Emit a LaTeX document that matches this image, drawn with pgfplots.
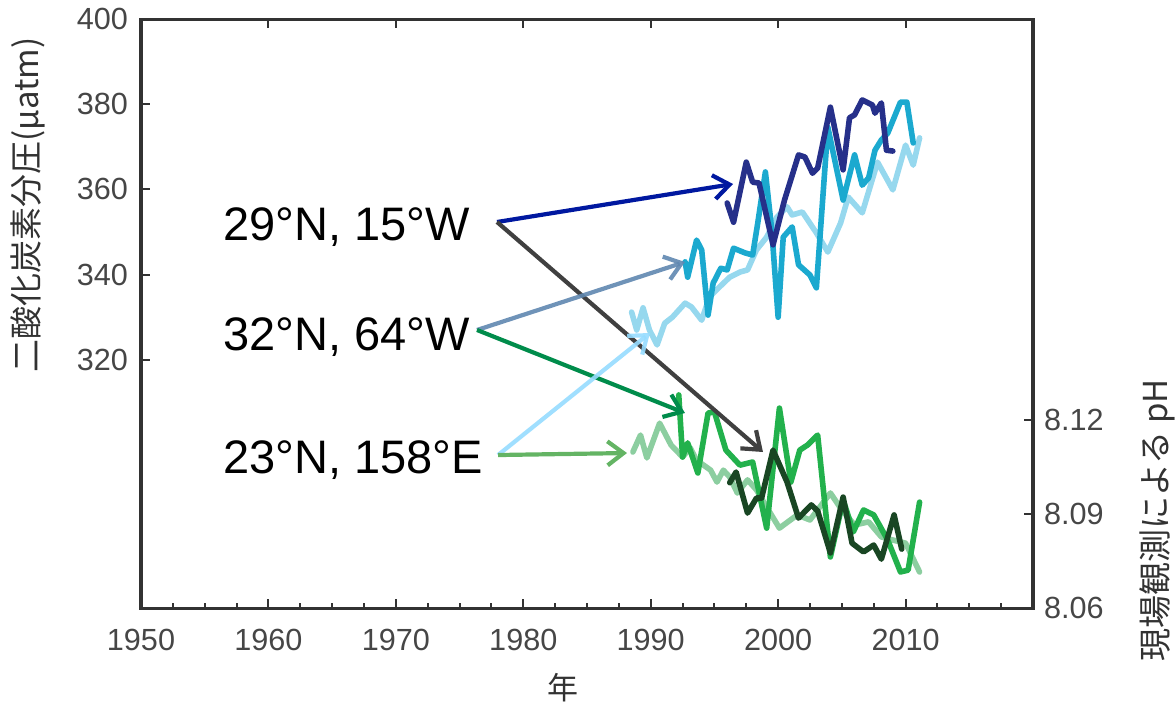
\documentclass[border=0pt]{standalone}
\usepackage{fontspec}
\setmainfont{Liberation Sans}
\newfontfamily\cjk{Noto Sans CJK JP}
\usepackage{pgfplots}
\pgfplotsset{compat=1.18}
\usetikzlibrary{arrows.meta}

\definecolor{axisgray}{RGB}{50,50,50}
\definecolor{tickgray}{RGB}{70,70,70}
\definecolor{estocco}{RGB}{38,48,138}
\definecolor{batsco}{RGB}{27,169,207}
\definecolor{hotco}{RGB}{150,216,238}
\definecolor{estocph}{RGB}{25,70,35}
\definecolor{batsph}{RGB}{34,177,76}
\definecolor{hotph}{RGB}{140,206,160}
\definecolor{arrblue}{RGB}{0,24,160}
\definecolor{arrgray}{RGB}{64,64,64}
\definecolor{arrsteel}{RGB}{95,135,176}
\definecolor{arrgreen}{RGB}{0,140,75}
\definecolor{arrlblue}{RGB}{150,220,255}
\definecolor{arrlgreen}{RGB}{100,180,100}

\tikzset{
  series/.style={line width=2.8pt, line join=round, line cap=round},
  arr/.style={line width=2.1pt, -{Straight Barb[length=8pt, width=12pt, line width=2.1pt]}},
}
\pgfplotsset{
  base/.style={
    scale only axis, width=446pt, height=294.5pt,
    at={(0,0)}, anchor=south west,
    xmin=1950, xmax=2020,
    axis line style={draw=axisgray, line width=1.5pt},
    major tick length=4.5pt, minor tick length=2.5pt,
    every tick/.style={draw=axisgray, line width=1pt},
    tick align=inside,
    ticklabel style={font=\fontsize{15.3}{18}\selectfont, text=tickgray},
    /pgf/number format/assume math mode=true,
    clip=false,
  },
}

\begin{document}
\begin{tikzpicture}
\path[use as bounding box] (-70.5pt,-50pt) rectangle (517.5pt,304pt);

% pH (right axis)
\begin{axis}[base,
  ymin=8.06, ymax=8.248, ytick={8.06,8.09,8.12}, ytick pos=right,
  yticklabel style={xshift=2pt, /pgf/number format/fixed,
    /pgf/number format/fixed zerofill, /pgf/number format/precision=2},
  xtick={1960,1970,...,2010}, xtick pos=top, xticklabels={},
]
\addplot[series, hotph] coordinates {
(1988.6,8.1098) (1989.2,8.1152) (1989.7,8.1079) (1990.7,8.1190) (1991.6,8.1120)
(1992.5,8.1082) (1993.1,8.1111) (1993.6,8.1072) (1994.7,8.1040) (1995.2,8.1002)
(1995.7,8.1040) (1996.2,8.1018) (1996.8,8.0967) (1997.6,8.1009) (1998.3,8.0977)
(1999.1,8.0922) (2000.1,8.0855) (2001.5,8.0897) (2002.5,8.0881) (2004.1,8.0967)
(2005.0,8.0913) (2006.0,8.0865) (2007.1,8.0875) (2008.1,8.0827) (2009.0,8.0817)
(2010.0,8.0807) (2011.1,8.0715)};
\addplot[series, batsph] coordinates {
(1992.2,8.1280) (1992.5,8.1082) (1992.9,8.1127) (1993.7,8.1031) (1994.5,8.1222)
(1995.0,8.1226) (1995.9,8.1104) (1997.0,8.1056) (1998.0,8.1066) (1999.1,8.0855)
(2000.1,8.1238) (2001.0,8.1002) (2001.7,8.1104) (2002.3,8.1120) (2003.1,8.1152)
(2004.1,8.0763) (2005.1,8.0945) (2005.9,8.0843) (2006.7,8.0913) (2007.5,8.0897)
(2008.6,8.0817) (2009.6,8.0715) (2010.2,8.0721) (2011.1,8.0938)};
\addplot[series, estocph] coordinates {
(1996.2,8.1000) (1996.7,8.1034) (1997.6,8.0903) (1998.3,8.0951) (1998.7,8.0951)
(1999.6,8.1104) (2000.7,8.1002) (2001.6,8.0887) (2002.6,8.0929) (2003.1,8.0910)
(2004.1,8.0776) (2005.1,8.0954) (2005.8,8.0807) (2006.7,8.0779) (2007.5,8.0801)
(2008.1,8.0756) (2009.1,8.0897) (2009.7,8.0788)};
\node[rotate=90, font=\cjk\fontsize{16.5}{20}\selectfont, text=axisgray]
  at (axis description cs:1.139,0.149) {現場観測による pH};
\end{axis}

% CO2 (left axis)
\begin{axis}[base,
  ymin=261.74, ymax=400, ytick={320,340,...,400}, ytick pos=left,
  yticklabel style={xshift=-3pt},
  xtick={1950,1960,...,2020}, xtick pos=bottom, minor x tick num=3,
  xticklabels={1950,1960,1970,1980,1990,2000,2010,{}},
  xticklabel style={yshift=-7pt},
]
\addplot[series, hotco] coordinates {
(1988.5,331.2) (1988.9,327.0) (1989.4,332.2) (1989.9,327.0) (1990.5,323.5)
(1991.1,328.6) (1991.7,330.0) (1992.7,333.3) (1993.2,332.4) (1994.0,329.3)
(1994.6,334.7) (1995.4,337.1) (1996.2,339.4) (1997.0,340.6) (1997.6,341.1)
(1998.3,345.8) (1999.1,348.8) (1999.9,353.5) (2000.7,355.9) (2001.1,354.0)
(2001.9,354.7) (2003.0,349.8) (2003.9,345.3) (2004.9,352.1) (2005.5,358.2)
(2006.6,354.5) (2007.8,366.4) (2009.0,359.9) (2010.0,370.4) (2010.6,365.7)
(2011.1,372.1)};
\addplot[series, batsco] coordinates {
(1992.7,343.0) (1992.9,339.4) (1993.6,348.1) (1994.0,345.8) (1994.5,330.5)
(1994.9,338.0) (1995.5,341.5) (1996.0,341.1) (1996.5,346.2) (1997.4,345.1)
(1998.0,344.6) (1998.4,352.1) (1999.0,364.1) (1999.5,350.5) (2000.0,330.0)
(2000.4,348.8) (2001.1,351.2) (2001.6,342.3) (2002.5,339.9) (2003.0,336.9)
(2003.9,374.6) (2005.1,357.5) (2006.0,368.1) (2006.6,361.0) (2007.1,362.7)
(2007.6,369.2) (2008.1,371.6) (2008.6,373.2) (2009.6,380.5) (2010.1,380.5)
(2010.6,370.9)};
\addplot[series, estocco] coordinates {
(1996.0,356.8) (1996.5,352.3) (1997.5,366.4) (1998.0,361.7) (1998.5,361.5)
(1999.6,347.0) (2000.5,357.5) (2001.6,368.1) (2002.1,367.6) (2002.7,363.8)
(2003.1,365.0) (2004.1,379.3) (2005.1,364.6) (2005.6,376.8) (2006.0,377.5)
(2006.6,381.0) (2007.4,379.8) (2007.6,377.9) (2008.1,380.3) (2008.5,369.2)
(2009.0,369.0)};

% station labels and arrows
\begin{scope}[font=\fontsize{23.5}{28}\selectfont]
\node[anchor=base west, inner sep=0pt] at (axis cs:1956.43,347.9) {29°N, 15°W};
\node[anchor=base west, inner sep=0pt] at (axis cs:1956.43,322.3) {32°N, 64°W};
\node[anchor=base west, inner sep=0pt] at (axis cs:1956.43,293.4) {23°N, 158°E};
\end{scope}
\draw[arr, arrblue]   (axis cs:1977.94,352.35) -- (axis cs:1996.46,361.27);
\draw[arr, arrgray]   (axis cs:1977.94,352.35) -- (axis cs:1998.81,298.36);
\draw[arr, arrsteel, opacity=0.9]  (axis cs:1976.37,327.0) -- (axis cs:1992.69,342.96);
\draw[arr, arrgreen]  (axis cs:1976.37,327.0) -- (axis cs:1992.69,307.51);
\draw[arr, arrlblue, opacity=0.9]  (axis cs:1978.02,297.65) -- (axis cs:1989.94,326.29);
\draw[arr, arrlgreen] (axis cs:1978.02,297.65) -- (axis cs:1988.14,298.12);

\node[font=\cjk\fontsize{15.5}{18}\selectfont, text=axisgray]
  at (axis description cs:0.473,-0.136) {年};
\node[rotate=90, font=\cjk\fontsize{16.5}{20}\selectfont, text=axisgray]
  at (axis description cs:-0.1267,0.684) {二酸化炭素分圧(µatm)};
\end{axis}
\end{tikzpicture}
\end{document}
